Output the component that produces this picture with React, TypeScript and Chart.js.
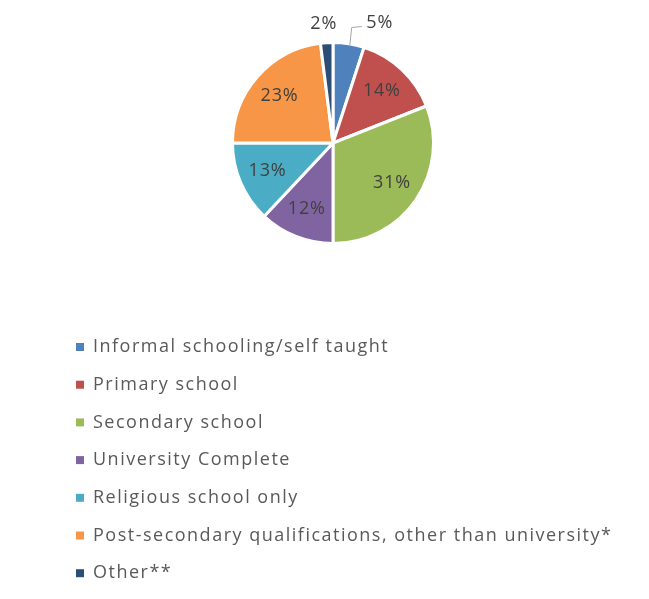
import React, { useEffect, useRef } from "react";
import { Chart, registerables } from "chart.js";

Chart.register(...registerables);

const categories = [
  "Informal schooling/self taught",
  "Primary school",
  "Secondary school",
  "University Complete",
  "Religious school only",
  "Post-secondary qualifications, other than university*",
  "Other**",
];
const values = [5, 14, 31, 12, 13, 23, 2];
const colors = ["#4F81BD", "#C0504D", "#9BBB59", "#8064A2", "#4BACC6", "#F79646", "#2C4D75"];

const FONT = "'Open Sans', Lato, sans-serif";

const labelPlugin = {
  id: "pieLabels",
  afterDatasetsDraw(chart: any) {
    const ctx = chart.ctx;
    const meta = chart.getDatasetMeta(0);
    const total = values.reduce((a, b) => a + b, 0);
    ctx.save();
    ctx.font = `18px ${FONT}`;
    (ctx as any).letterSpacing = "0.8px";
    ctx.fillStyle = "#404040";
    ctx.textAlign = "center";
    ctx.textBaseline = "middle";
    meta.data.forEach((arc: any, i: number) => {
      const { x, y, startAngle, endAngle, outerRadius } = arc.getProps(
        ["x", "y", "startAngle", "endAngle", "outerRadius"],
        true
      );
      const mid = (startAngle + endAngle) / 2;
      const pct = Math.round((values[i] / total) * 100) + "%";
      if (values[i] >= 8) {
        const r = outerRadius * 0.71;
        ctx.fillText(pct, x + Math.cos(mid) * r, y + Math.sin(mid) * r);
      } else {
        const ex = x + Math.cos(mid) * outerRadius;
        const ey = y + Math.sin(mid) * outerRadius;
        if (i === 0) {
          ctx.strokeStyle = "#A6A6A6";
          ctx.lineWidth = 1;
          ctx.beginPath();
          ctx.moveTo(ex + 1, ey + 2);
          ctx.lineTo(ex + 3, y - outerRadius - 15);
          ctx.lineTo(ex + 13, y - outerRadius - 16);
          ctx.stroke();
          ctx.fillText(pct, ex + 31, y - outerRadius - 20);
        } else {
          ctx.fillText(pct, ex - 3, y - outerRadius - 19);
        }
      }
    });
    ctx.restore();
  },
};

const legendPlugin = {
  id: "customLegend",
  afterDraw(chart: any) {
    const ctx = chart.ctx;
    ctx.save();
    ctx.font = `18px ${FONT}`;
    (ctx as any).letterSpacing = "1.5px";
    ctx.textBaseline = "middle";
    ctx.textAlign = "left";
    const labels = chart.data.labels as string[];
    const bg = chart.data.datasets[0].backgroundColor as string[];
    labels.forEach((lab, i) => {
      const cy = 347 + i * 37.7;
      ctx.fillStyle = bg[i];
      ctx.fillRect(76, cy - 4, 8, 8);
      ctx.fillStyle = "#595959";
      ctx.fillText(lab, 93, cy);
    });
    ctx.restore();
  },
};

export default function App() {
  const ref = useRef<HTMLCanvasElement>(null);
  useEffect(() => {
    if (!ref.current) return;
    const chart = new Chart(ref.current, {
      type: "pie",
      data: {
        labels: categories,
        datasets: [
          {
            data: values,
            backgroundColor: colors,
            borderColor: "#FFFFFF",
            borderWidth: 3,
          },
        ],
      },
      options: {
        responsive: false,
        animation: false,
        layout: { padding: { left: 231, right: 214, top: 41, bottom: 354 } },
        plugins: {
          legend: { display: false },
          tooltip: { enabled: false },
        },
      },
      plugins: [labelPlugin, legendPlugin],
    });
    return () => chart.destroy();
  }, []);
  return (
    <div style={{ position: "fixed", left: 0, top: 0, width: 649, height: 599, background: "#fff" }}>
      <canvas ref={ref} width={649} height={599} />
    </div>
  );
}
